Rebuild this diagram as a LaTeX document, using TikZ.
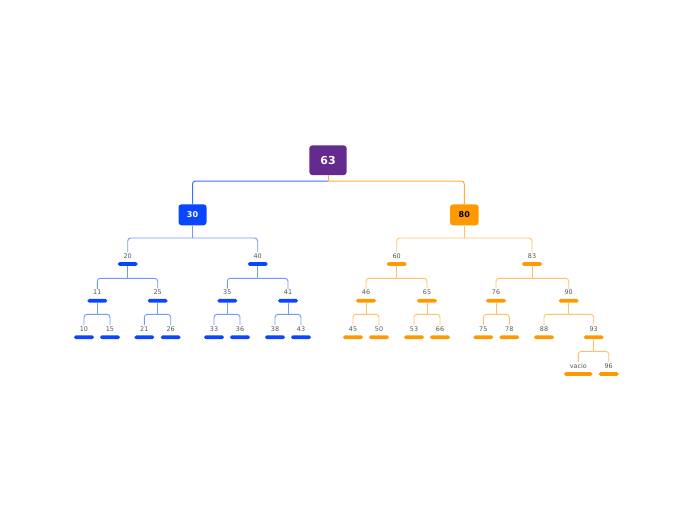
\documentclass[tikz,border=0pt]{standalone}
\usepackage{fontspec}
\setmainfont{DejaVu Sans}
\definecolor{rootc}{HTML}{642A8E}
\definecolor{bluec}{HTML}{0A45FF}
\definecolor{blueln}{HTML}{7396FF}
\definecolor{bluetop}{HTML}{3F6DFF}
\definecolor{orangec}{HTML}{FF9900}
\definecolor{orangeln}{HTML}{FFC266}
\definecolor{orangetop}{HTML}{FFAD3A}
\definecolor{lblc}{HTML}{555555}
\tikzset{
  topbox/.style={rounded corners=3pt, inner sep=0pt, font=\fontsize{8}{9}\selectfont\bfseries},
  lbl/.style={inner sep=1.2pt, text=lblc, font=\fontsize{6.4}{7}\selectfont},
  bbar/.style={fill=bluec, rounded corners=1.8pt, minimum width=20pt, minimum height=3.8pt, inner sep=0pt},
  obar/.style={fill=orangec, rounded corners=1.8pt, minimum width=20pt, minimum height=3.8pt, inner sep=0pt},
  bln/.style={draw=blueln, line width=0.9pt, rounded corners=3pt},
  oln/.style={draw=orangeln, line width=0.9pt, rounded corners=3pt},
}
\begin{document}
\begin{tikzpicture}[x=1pt,y=-1pt]
\useasboundingbox (0,0) rectangle (697,520);
% top boxes
\node[topbox, fill=rootc, text=white, minimum width=37.4pt, minimum height=29.6pt, font=\fontsize{11}{12}\selectfont\bfseries] (n63) at (328,160.2) {63};
\node[topbox, fill=bluec, text=white, minimum width=28pt, minimum height=21pt] (n30) at (192.5,214.8) {30};
\node[topbox, fill=orangec, text=black, minimum width=28.6pt, minimum height=21pt] (n80) at (464.3,214.8) {80};
\coordinate (j63) at (328,181);
\draw[draw=orangetop, line width=1pt] (n63.south) -- (j63);
\draw[draw=bluetop, line width=1pt, rounded corners=3pt] (j63) -| (n30.north);
\draw[draw=orangetop, line width=1pt, rounded corners=3pt] (j63) -| (n80.north);

% ---------- blue subtree ----------
% level 2
\node[lbl] (l20) at (127.7,256) {20}; \node[bbar] (b20) at (127.7,264) {};
\node[lbl] (l40) at (257.7,256) {40}; \node[bbar] (b40) at (257.7,264) {};
\coordinate (j30) at (192.5,238);
\draw[bln] (n30.south) -- (j30);
\draw[bln] (j30) -| (l20.north);
\draw[bln] (j30) -| (l40.north);
% level 3
\node[lbl] (l11) at (97.3,292.5) {11}; \node[bbar] (b11) at (97.3,300.8) {};
\node[lbl] (l25) at (157.7,292.5) {25}; \node[bbar] (b25) at (157.7,300.8) {};
\node[lbl] (l35) at (227.3,292.5) {35}; \node[bbar] (b35) at (227.3,300.8) {};
\node[lbl] (l41) at (288,292.5) {41}; \node[bbar] (b41) at (288,300.8) {};
\coordinate (j20) at (127.7,278.3);
\coordinate (j40) at (257.7,278.3);
\draw[bln] (b20.south) -- (j20); \draw[bln] (j20) -| (l11.north); \draw[bln] (j20) -| (l25.north);
\draw[bln] (b40.south) -- (j40); \draw[bln] (j40) -| (l35.north); \draw[bln] (j40) -| (l41.north);
% level 4
\node[lbl] (l10) at (84,329) {10}; \node[bbar] (b10) at (84,337.3) {};
\node[lbl] (l15) at (110,329) {15}; \node[bbar] (b15) at (110,337.3) {};
\node[lbl] (l21) at (144.3,329) {21}; \node[bbar] (b21) at (144.3,337.3) {};
\node[lbl] (l26) at (170.7,329) {26}; \node[bbar] (b26) at (170.7,337.3) {};
\node[lbl] (l33) at (214,329) {33}; \node[bbar] (b33) at (214,337.3) {};
\node[lbl] (l36) at (240,329) {36}; \node[bbar] (b36) at (240,337.3) {};
\node[lbl] (l38) at (275,329) {38}; \node[bbar] (b38) at (275,337.3) {};
\node[lbl] (l43) at (301,329) {43}; \node[bbar] (b43) at (301,337.3) {};
\coordinate (j11) at (97.3,314.3);
\coordinate (j25) at (157.7,314.3);
\coordinate (j35) at (227.3,314.3);
\coordinate (j41) at (288,314.3);
\draw[bln] (b11.south) -- (j11); \draw[bln] (j11) -| (l10.north); \draw[bln] (j11) -| (l15.north);
\draw[bln] (b25.south) -- (j25); \draw[bln] (j25) -| (l21.north); \draw[bln] (j25) -| (l26.north);
\draw[bln] (b35.south) -- (j35); \draw[bln] (j35) -| (l33.north); \draw[bln] (j35) -| (l36.north);
\draw[bln] (b41.south) -- (j41); \draw[bln] (j41) -| (l38.north); \draw[bln] (j41) -| (l43.north);

% ---------- orange subtree ----------
% level 2
\node[lbl] (l60) at (396.7,256) {60}; \node[obar] (b60) at (396.7,264) {};
\node[lbl] (l83) at (532,256) {83}; \node[obar] (b83) at (532,264) {};
\coordinate (j80) at (464.3,238);
\draw[oln] (n80.south) -- (j80);
\draw[oln] (j80) -| (l60.north);
\draw[oln] (j80) -| (l83.north);
% level 3
\node[lbl] (l46) at (366,292.5) {46}; \node[obar] (b46) at (366,300.8) {};
\node[lbl] (l65) at (427,292.5) {65}; \node[obar] (b65) at (427,300.8) {};
\node[lbl] (l76) at (496,292.5) {76}; \node[obar] (b76) at (496,300.8) {};
\node[lbl] (l90) at (568.7,292.5) {90}; \node[obar] (b90) at (568.7,300.8) {};
\coordinate (j60) at (396.7,278.3);
\coordinate (j83) at (532,278.3);
\draw[oln] (b60.south) -- (j60); \draw[oln] (j60) -| (l46.north); \draw[oln] (j60) -| (l65.north);
\draw[oln] (b83.south) -- (j83); \draw[oln] (j83) -| (l76.north); \draw[oln] (j83) -| (l90.north);
% level 4
\node[lbl] (l45) at (353,329) {45}; \node[obar] (b45) at (353,337.3) {};
\node[lbl] (l50) at (379,329) {50}; \node[obar] (b50) at (379,337.3) {};
\node[lbl] (l53) at (414,329) {53}; \node[obar] (b53) at (414,337.3) {};
\node[lbl] (l66) at (440,329) {66}; \node[obar] (b66) at (440,337.3) {};
\node[lbl] (l75) at (483.3,329) {75}; \node[obar] (b75) at (483.3,337.3) {};
\node[lbl] (l78) at (509.3,329) {78}; \node[obar] (b78) at (509.3,337.3) {};
\node[lbl] (l88) at (544,329) {88}; \node[obar] (b88) at (544,337.3) {};
\node[lbl] (l93) at (593.7,329) {93}; \node[obar] (b93) at (593.7,337.3) {};
\coordinate (j46) at (366,314.3);
\coordinate (j65) at (427,314.3);
\coordinate (j76) at (496,314.3);
\coordinate (j90) at (568.7,314.3);
\draw[oln] (b46.south) -- (j46); \draw[oln] (j46) -| (l45.north); \draw[oln] (j46) -| (l50.north);
\draw[oln] (b65.south) -- (j65); \draw[oln] (j65) -| (l53.north); \draw[oln] (j65) -| (l66.north);
\draw[oln] (b76.south) -- (j76); \draw[oln] (j76) -| (l75.north); \draw[oln] (j76) -| (l78.north);
\draw[oln] (b90.south) -- (j90); \draw[oln] (j90) -| (l88.north); \draw[oln] (j90) -| (l93.north);
% level 5
\node[lbl] (lvacio) at (578.3,365.7) {vacio}; \node[obar, minimum width=28.6pt] (bvacio) at (578.3,374) {};
\node[lbl] (l96) at (608.7,365.7) {96}; \node[obar] (b96) at (608.7,374) {};
\coordinate (j93) at (593.7,351.3);
\draw[oln] (b93.south) -- (j93); \draw[oln] (j93) -| (lvacio.north); \draw[oln] (j93) -| (l96.north);
\end{tikzpicture}
\end{document}
